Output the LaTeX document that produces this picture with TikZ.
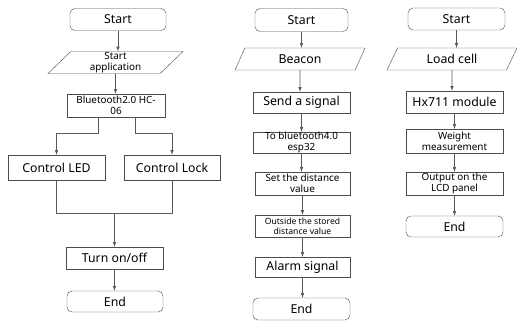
\documentclass[tikz,border=0pt]{standalone}
\usepackage{fontspec}
\setmainfont{Noto Sans}
\usetikzlibrary{shapes.geometric}

\begin{document}
\begin{tikzpicture}[>=latex,x=1pt,y=-1pt,
    every node/.style={inner sep=0pt},
    term/.style={draw=black!70,rounded corners=5pt,minimum width=96pt,minimum height=22pt,font=\fontsize{12.3}{13}\selectfont},
    proc/.style={draw=black!70,minimum width=97pt,minimum height=22pt,align=center,font=\fontsize{12.3}{13}\selectfont},
    small/.style={font=\fontsize{9.9}{11}\selectfont},
    tiny/.style={font=\fontsize{8.6}{10}\selectfont},
    io/.style={draw=black!70,trapezium,trapezium left angle=42,trapezium right angle=138,trapezium stretches body,minimum width=130pt,minimum height=22pt,align=center,font=\fontsize{12.3}{13}\selectfont},
    conn/.style={draw=black!65,line width=0.6pt}]
\useasboundingbox (0,0) rectangle (517,322);
% left column
\node[term] (s1) at (118,19.5) {Start};
\node[io,small,minimum width=135pt] (a1) at (115.5,62.5) {Start\\application};
\node[proc,small,minimum width=98pt,minimum height=23pt] (b1) at (116,105.5) {Bluetooth2.0 HC-\\06};
\node[proc,minimum height=25pt] (led) at (56.5,167.5) {Control LED};
\node[proc,minimum width=96pt,minimum height=25pt] (lock) at (172,167.5) {Control Lock};
\node[proc] (turn) at (114.5,258) {Turn on/off};
\node[term,minimum height=21pt] (e1) at (115,301.5) {End};
\draw[conn,->] (s1) -- (s1 |- a1.north);
\draw[conn,->] (a1) -- (a1 |- b1.north);
\draw[conn,->] ([xshift=-18pt]b1.south) -- ++(0,16) -| (led);
\draw[conn,->] ([xshift=19pt]b1.south) -- ++(0,16) -| (lock);
\draw[conn] (led.south) -- ++(0,33) coordinate (merge) -| (lock.south);
\draw[conn,->] (merge -| turn) -- (turn);
\draw[conn,->] (turn) -- (turn |- e1.north);
% middle column
\node[term,minimum width=93pt,minimum height=23pt] (s2) at (301.5,20) {Start};
\node[io] (beacon) at (300,59) {Beacon};
\node[proc,minimum height=21pt] (send) at (301.5,102.5) {Send a signal};
\node[proc,small,minimum height=21pt] (tobt) at (301.5,142.5) {To bluetooth4.0\\esp32};
\node[proc,small,minimum width=95pt,minimum height=23pt] (setd) at (302.5,183.5) {Set the distance\\value};
\node[proc,tiny,minimum width=95pt] (outs) at (302.5,226) {Outside the stored\\distance value};
\node[proc,minimum width=95pt,minimum height=20pt] (alarm) at (302.5,267) {Alarm signal};
\node[term,minimum width=97pt] (e2) at (301.5,309) {End};
\draw[conn,->] (s2) -- (s2 |- beacon.north);
\draw[conn,->] (beacon) -- (beacon |- send.north);
\draw[conn,->] (send) -- (send |- tobt.north);
\draw[conn,->] (tobt) -- (tobt |- setd.north);
\draw[conn,->] (setd) -- (setd |- outs.north);
\draw[conn,->] (outs) -- (outs |- alarm.north);
\draw[conn,->] (alarm) -- (alarm |- e2.north);
% right column
\node[term,minimum width=97pt] (s3) at (456.5,19) {Start};
\node[io] (load) at (452,59) {Load cell};
\node[proc] (hx) at (454.5,102) {Hx711 module};
\node[proc,small,minimum height=24pt] (weight) at (454.5,141) {Weight\\measurement};
\node[proc,small,minimum height=23pt] (outp) at (454.5,183.5) {Output on the\\LCD panel};
\node[term,minimum width=97pt,minimum height=21pt] (e3) at (454.5,226.5) {End};
\draw[conn,->] (s3) -- (s3 |- load.north);
\draw[conn,->] (load) -- (load |- hx.north);
\draw[conn,->] (hx) -- (hx |- weight.north);
\draw[conn,->] (weight) -- (weight |- outp.north);
\draw[conn,->] (outp) -- (outp |- e3.north);
\end{tikzpicture}
\end{document}
